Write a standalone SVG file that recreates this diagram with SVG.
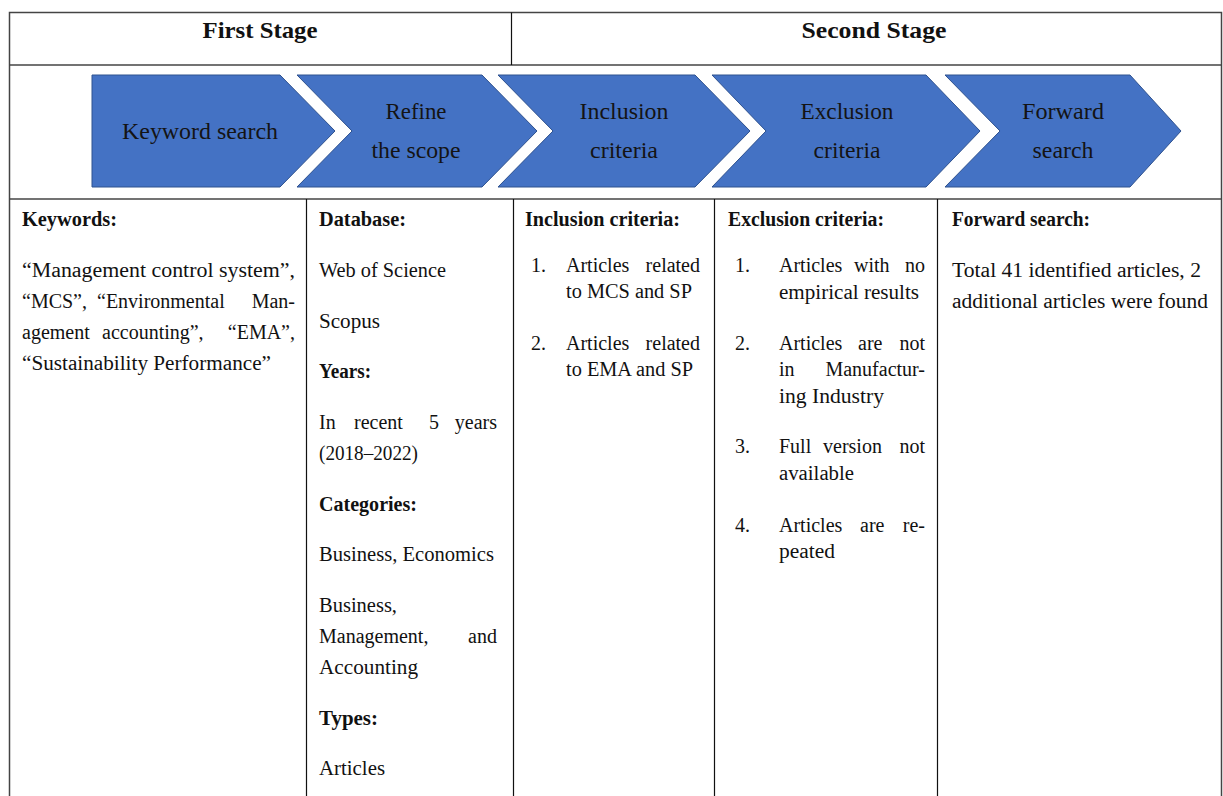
<svg xmlns="http://www.w3.org/2000/svg" width="1223" height="796" viewBox="0 0 1223 796">
<style>
text{font-family:"Liberation Serif","Times New Roman",serif;fill:#111;}
.h{font-size:24px;font-weight:bold;text-anchor:middle;}
.c{font-size:22.5px;text-anchor:middle;fill:#141414;}
.t{font-size:20px;}
.e{font-size:20px;text-anchor:end;}
.b{font-size:20px;font-weight:bold;}
.chev{fill:#4472C4;stroke:#2F528F;stroke-width:1;}
.frame{fill:none;stroke:#444;stroke-width:1.5;}
.col{stroke:#111;stroke-width:1.2;}
</style>
<rect x="0" y="0" width="1223" height="796" fill="#fff"/>
<g id="table">
<path class="frame" d="M9.5,796 V12.5 H1221.5 V796"/>
<line class="frame" x1="9.5" y1="65" x2="1221.5" y2="65"/>
<line class="frame" x1="9.5" y1="199" x2="1221.5" y2="199"/>
<line class="col" x1="511.5" y1="12.5" x2="511.5" y2="65"/>
<line class="col" x1="306.5" y1="199" x2="306.5" y2="796"/>
<line class="col" x1="513.5" y1="199" x2="513.5" y2="796"/>
<line class="col" x1="714.5" y1="199" x2="714.5" y2="796"/>
<line class="col" x1="937.5" y1="199" x2="937.5" y2="796"/>
</g>
<g id="header-first"><text class="h" x="260" y="38" textLength="115" lengthAdjust="spacingAndGlyphs">First Stage</text></g>
<g id="header-second"><text class="h" x="874" y="38" textLength="145" lengthAdjust="spacingAndGlyphs">Second Stage</text></g>
<g id="connectors"></g>
<g id="chev-keyword">
<polygon class="chev" points="92,75 280,75 335,131 280,187 92,187"/>
<text class="c" x="200" y="139" textLength="156" lengthAdjust="spacingAndGlyphs">Keyword search</text>
</g>
<g id="chev-refine">
<polygon class="chev" points="297,75 482,75 537,131 482,187 297,187 352,131"/>
<text class="c" x="416" y="119" textLength="61" lengthAdjust="spacingAndGlyphs">Refine</text>
<text class="c" x="416" y="158" textLength="89" lengthAdjust="spacingAndGlyphs">the scope</text>
</g>
<g id="chev-inclusion">
<polygon class="chev" points="498,75 695,75 750,131 695,187 498,187 553,131"/>
<text class="c" x="624" y="119" textLength="89" lengthAdjust="spacingAndGlyphs">Inclusion</text>
<text class="c" x="624" y="158" textLength="68" lengthAdjust="spacingAndGlyphs">criteria</text>
</g>
<g id="chev-exclusion">
<polygon class="chev" points="712,75 926,75 980,131 926,187 712,187 766,131"/>
<text class="c" x="847" y="119" textLength="93" lengthAdjust="spacingAndGlyphs">Exclusion</text>
<text class="c" x="847" y="158" textLength="67" lengthAdjust="spacingAndGlyphs">criteria</text>
</g>
<g id="chev-forward">
<polygon class="chev" points="945,75 1130,75 1181,131 1130,187 945,187 1000,131"/>
<text class="c" x="1063" y="119" textLength="82" lengthAdjust="spacingAndGlyphs">Forward</text>
<text class="c" x="1063" y="158" textLength="61" lengthAdjust="spacingAndGlyphs">search</text>
</g>
<g id="col-keywords">
<text class="b" x="22" y="226" textLength="95" lengthAdjust="spacingAndGlyphs">Keywords:</text>
<text class="t" x="22" y="277" textLength="273" lengthAdjust="spacingAndGlyphs">“Management control system”,</text>
<text class="t" x="22" y="308">“MCS”,</text>
<text class="t" x="97" y="308">“Environmental</text>
<text class="e" x="295" y="308">Man-</text>
<text class="t" x="22" y="339">agement</text>
<text class="t" x="102" y="339">accounting”,</text>
<text class="e" x="295" y="339">“EMA”,</text>
<text class="t" x="22" y="370" textLength="249" lengthAdjust="spacingAndGlyphs">“Sustainability Performance”</text>
</g>
<g id="col-database">
<text class="b" x="319" y="226" textLength="87" lengthAdjust="spacingAndGlyphs">Database:</text>
<text class="t" x="319" y="277" textLength="127" lengthAdjust="spacingAndGlyphs">Web of Science</text>
<text class="t" x="319" y="328" textLength="61" lengthAdjust="spacingAndGlyphs">Scopus</text>
<text class="b" x="319" y="378" textLength="52" lengthAdjust="spacingAndGlyphs">Years:</text>
<text class="t" x="319" y="429">In</text>
<text class="t" x="354" y="429">recent</text>
<text class="t" x="429" y="429">5</text>
<text class="e" x="497" y="429">years</text>
<text class="t" x="319" y="460" textLength="99" lengthAdjust="spacingAndGlyphs">(2018–2022)</text>
<text class="b" x="319" y="511" textLength="98" lengthAdjust="spacingAndGlyphs">Categories:</text>
<text class="t" x="319" y="561" textLength="175" lengthAdjust="spacingAndGlyphs">Business, Economics</text>
<text class="t" x="319" y="612" textLength="78" lengthAdjust="spacingAndGlyphs">Business,</text>
<text class="t" x="319" y="643">Management,</text>
<text class="e" x="497" y="643">and</text>
<text class="t" x="319" y="674" textLength="99" lengthAdjust="spacingAndGlyphs">Accounting</text>
<text class="b" x="319" y="725" textLength="59" lengthAdjust="spacingAndGlyphs">Types:</text>
<text class="t" x="319" y="775" textLength="66" lengthAdjust="spacingAndGlyphs">Articles</text>
</g>
<g id="col-inclusion">
<text class="b" x="525" y="226" textLength="155" lengthAdjust="spacingAndGlyphs">Inclusion criteria:</text>
<text class="t" x="531" y="272">1.</text>
<text class="t" x="566" y="272">Articles</text>
<text class="e" x="700" y="272">related</text>
<text class="t" x="566" y="298" textLength="126" lengthAdjust="spacingAndGlyphs">to MCS and SP</text>
<text class="t" x="531" y="350">2.</text>
<text class="t" x="566" y="350">Articles</text>
<text class="e" x="700" y="350">related</text>
<text class="t" x="566" y="376" textLength="127" lengthAdjust="spacingAndGlyphs">to EMA and SP</text>
</g>
<g id="col-exclusion">
<text class="b" x="728" y="226" textLength="156" lengthAdjust="spacingAndGlyphs">Exclusion criteria:</text>
<text class="t" x="735" y="272">1.</text>
<text class="t" x="779" y="272">Articles</text>
<text class="t" x="854" y="272">with</text>
<text class="e" x="925" y="272">no</text>
<text class="t" x="779" y="299" textLength="140" lengthAdjust="spacingAndGlyphs">empirical results</text>
<text class="t" x="735" y="350">2.</text>
<text class="t" x="779" y="350">Articles</text>
<text class="t" x="858" y="350">are</text>
<text class="e" x="925" y="350">not</text>
<text class="t" x="779" y="376">in</text>
<text class="e" x="925" y="376">Manufactur-</text>
<text class="t" x="779" y="403" textLength="105" lengthAdjust="spacingAndGlyphs">ing Industry</text>
<text class="t" x="735" y="453">3.</text>
<text class="t" x="779" y="453">Full</text>
<text class="t" x="823" y="453">version</text>
<text class="e" x="925" y="453">not</text>
<text class="t" x="779" y="480" textLength="75" lengthAdjust="spacingAndGlyphs">available</text>
<text class="t" x="735" y="532">4.</text>
<text class="t" x="779" y="532">Articles</text>
<text class="t" x="860" y="532">are</text>
<text class="e" x="925" y="532">re-</text>
<text class="t" x="779" y="558" textLength="56" lengthAdjust="spacingAndGlyphs">peated</text>
</g>
<g id="col-forward">
<text class="b" x="952" y="226" textLength="138" lengthAdjust="spacingAndGlyphs">Forward search:</text>
<text class="t" x="952" y="277" textLength="249" lengthAdjust="spacingAndGlyphs">Total 41 identified articles, 2</text>
<text class="t" x="952" y="308" textLength="256" lengthAdjust="spacingAndGlyphs">additional articles were found</text>
</g>
</svg>
